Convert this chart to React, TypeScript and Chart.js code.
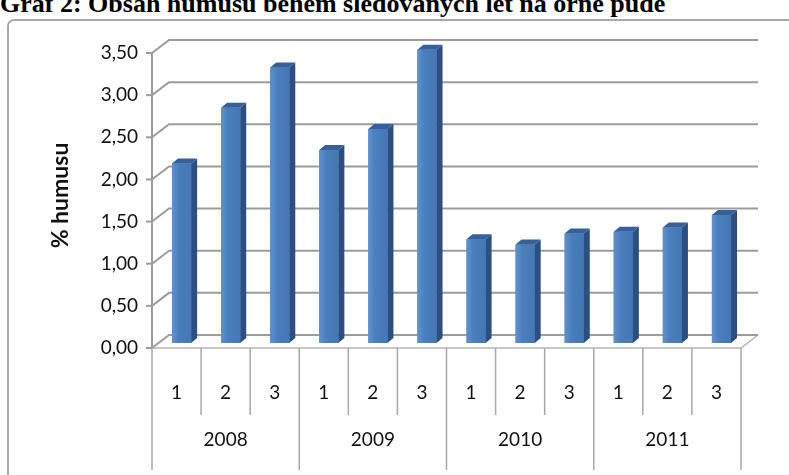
import { useEffect, useRef } from "react";
import { Chart, registerables } from "chart.js";

Chart.register(...registerables);

// Sampling years and the three sampling dates inside each year
const years = ["2008", "2009", "2010", "2011"];
const terms = ["1", "2", "3"];

// Humus content (%) for each year / sampling date
const humus = [2.13, 2.79, 3.27, 2.29, 2.54, 3.48, 1.23, 1.17, 1.3, 1.32, 1.37, 1.52];

// Value axis
const yTicks = [0, 0.5, 1, 1.5, 2, 2.5, 3, 3.5];
const yTickLabels = ["0,00", "0,50", "1,00", "1,50", "2,00", "2,50", "3,00", "3,50"];

const titleText = "Graf 2: Obsah humusu během sledovaných let na orné půdě";
const axisTitle = "% humusu";

// Perspective offsets of the front plane and the back wall relative to the bar plane
const FRONT = { dx: 5, dy: 5 };
const BACK = { dx: 12, dy: 8 };
// Extrusion of each column
const DEPTH = { dx: 6, dy: 5 };

const GRID = "#9c9c9c";
const FONT_FAMILY = 'Lato, "Open Sans", sans-serif';
const LABEL_FONT = `19px ${FONT_FAMILY}`;
const TEXT = "#111111";

const labels = years.flatMap((yr) => terms.map((t) => [t, yr]));

const walls3d = {
  id: "walls3d",
  beforeDatasetsDraw(chart: any) {
    const { ctx, chartArea: a, scales } = chart;
    const y = scales.y;
    const x = scales.x;
    const y0 = y.getPixelForValue(0);
    const yTop = y.getPixelForValue(yTicks[yTicks.length - 1]);
    ctx.save();
    ctx.lineCap = "butt";

    // floor
    ctx.strokeStyle = "#b4b4b4";
    ctx.lineWidth = 1.5;
    ctx.beginPath();
    ctx.moveTo(a.left - FRONT.dx, y0 + FRONT.dy);
    ctx.lineTo(a.right - FRONT.dx, y0 + FRONT.dy);
    ctx.lineTo(a.right + BACK.dx, y0 - BACK.dy);
    ctx.stroke();

    // back wall gridlines and their diagonals to the front axis
    ctx.strokeStyle = GRID;
    ctx.lineWidth = 2;
    for (const v of yTicks) {
      const py = y.getPixelForValue(v);
      ctx.beginPath();
      ctx.moveTo(a.left - FRONT.dx, py + FRONT.dy);
      ctx.lineTo(a.left + BACK.dx, py - BACK.dy);
      ctx.lineTo(a.right + BACK.dx, py - BACK.dy);
      ctx.stroke();
      ctx.beginPath();
      ctx.moveTo(a.left - FRONT.dx - 6, py + FRONT.dy);
      ctx.lineTo(a.left - FRONT.dx, py + FRONT.dy);
      ctx.stroke();
    }

    // front value axis line
    ctx.beginPath();
    ctx.moveTo(a.left - FRONT.dx, yTop + FRONT.dy);
    ctx.lineTo(a.left - FRONT.dx, y0 + FRONT.dy);
    ctx.stroke();

    // category table under the floor
    const n = labels.length;
    const cw = (a.right - a.left) / n;
    const baseY = y0 + FRONT.dy;
    ctx.strokeStyle = "#a8a8a8";
    ctx.lineWidth = 1.5;
    for (let i = 0; i <= n; i++) {
      const bx = x.getPixelForValue(Math.min(i, n - 1)) + (i === n ? cw / 2 : -cw / 2) - FRONT.dx;
      const group = i % terms.length === 0;
      ctx.beginPath();
      ctx.moveTo(bx, baseY);
      ctx.lineTo(bx, group ? 470 : 415);
      ctx.stroke();
    }

    ctx.fillStyle = TEXT;
    ctx.font = LABEL_FONT;
    ctx.textAlign = "center";
    ctx.textBaseline = "middle";
    for (let i = 0; i < n; i++) {
      const cx = x.getPixelForValue(i) - FRONT.dx;
      ctx.fillText(labels[i][0], cx, 393);
    }
    for (let g = 0; g < years.length; g++) {
      const first = x.getPixelForValue(g * terms.length);
      const last = x.getPixelForValue(g * terms.length + terms.length - 1);
      ctx.fillText(years[g], (first + last) / 2 - FRONT.dx, 440);
    }
    ctx.restore();
  },
  afterDatasetsDraw(chart: any) {
    const { ctx } = chart;
    const meta = chart.getDatasetMeta(0);
    ctx.save();
    for (const el of meta.data) {
      const { x, y, base, width } = el.getProps(["x", "y", "base", "width"], true);
      const l = x - width / 2;
      const r = x + width / 2;
      // lighter strip on the left of the front face
      const g = ctx.createLinearGradient(l, 0, r, 0);
      g.addColorStop(0, "#5f92d2");
      g.addColorStop(0.35, "#4a7ebc");
      g.addColorStop(1, "#4477b4");
      ctx.fillStyle = g;
      ctx.fillRect(l, y, width, base - y);
      // side face
      ctx.fillStyle = "#2c4f82";
      ctx.beginPath();
      ctx.moveTo(r, y);
      ctx.lineTo(r + DEPTH.dx, y - DEPTH.dy);
      ctx.lineTo(r + DEPTH.dx, base - DEPTH.dy);
      ctx.lineTo(r, base);
      ctx.closePath();
      ctx.fill();
      // top face
      ctx.fillStyle = "#35609a";
      ctx.beginPath();
      ctx.moveTo(l, y);
      ctx.lineTo(l + DEPTH.dx, y - DEPTH.dy);
      ctx.lineTo(r + DEPTH.dx, y - DEPTH.dy);
      ctx.lineTo(r, y);
      ctx.closePath();
      ctx.fill();
    }
    ctx.restore();
  },
};

export default function App() {
  const ref = useRef<HTMLCanvasElement>(null);

  useEffect(() => {
    const chart = new Chart(ref.current as HTMLCanvasElement, {
      type: "bar",
      data: {
        labels,
        datasets: [
          {
            data: humus,
            backgroundColor: "#4a7ebc",
            borderWidth: 0,
            barPercentage: 0.39,
            categoryPercentage: 1,
          },
        ],
      },
      options: {
        responsive: false,
        animation: false,
        devicePixelRatio: 1,
        layout: { padding: { left: 0, top: 48, right: 43, bottom: 132 } },
        plugins: { legend: { display: false }, tooltip: { enabled: false } },
        scales: {
          x: { display: false, offset: true, grid: { display: false } },
          y: {
            min: 0,
            max: 3.5,
            afterBuildTicks: (scale: any) => {
              scale.ticks = yTicks.map((v) => ({ value: v }));
            },
            afterFit: (scale: any) => {
              scale.width = 157;
            },
            grid: { display: false, drawTicks: false },
            border: { display: false },
            ticks: {
              padding: 19,
              labelOffset: 5,
              color: TEXT,
              font: { family: FONT_FAMILY, size: 19 },
              callback: (_v: any, i: number) => yTickLabels[i],
            },
            title: {
              display: true,
              text: axisTitle,
              color: TEXT,
              font: { family: FONT_FAMILY, size: 23, weight: "bold" },
              padding: { top: 47, bottom: 0 },
            },
          },
        },
      },
      plugins: [walls3d],
    } as any);
    return () => chart.destroy();
  }, []);

  return (
    <div
      style={{
        position: "fixed",
        left: 0,
        top: 0,
        width: 789,
        height: 475,
        overflow: "hidden",
        background: "#ffffff",
      }}
    >
      <div
        style={{
          position: "absolute",
          left: 7,
          top: 19,
          width: 820,
          height: 500,
          border: "2px solid #a9a9a9",
          borderRadius: 7,
          background: "#ffffff",
        }}
      />
      <div
        style={{
          position: "absolute",
          left: 0,
          top: -11,
          whiteSpace: "nowrap",
          font: 'bold 26px "Liberation Serif", "Times New Roman", serif',
          lineHeight: "30px",
          color: "#000000",
        }}
      >
        {titleText}
      </div>
      <canvas
        ref={ref}
        width={789}
        height={475}
        style={{ position: "absolute", left: 0, top: 0, width: 789, height: 475 }}
      />
    </div>
  );
}
